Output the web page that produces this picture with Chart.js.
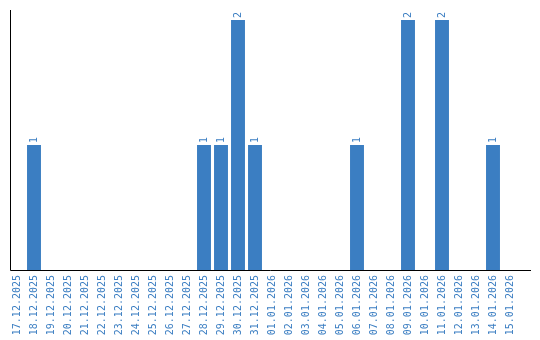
<!DOCTYPE html>
<html>
<head>
<meta charset="utf-8">
<script src="https://cdn.jsdelivr.net/npm/chart.js@4"></script>
<style>
  body { margin: 0; background: #fff; }
</style>
</head>
<body>
<canvas id="myChart" width="540" height="340"></canvas>
<script>
var dayLabels = ['17.12.2025', '18.12.2025', '19.12.2025', '20.12.2025', '21.12.2025', '22.12.2025',
  '23.12.2025', '24.12.2025', '25.12.2025', '26.12.2025', '27.12.2025', '28.12.2025', '29.12.2025',
  '30.12.2025', '31.12.2025', '01.01.2026', '02.01.2026', '03.01.2026', '04.01.2026', '05.01.2026',
  '06.01.2026', '07.01.2026', '08.01.2026', '09.01.2026', '10.01.2026', '11.01.2026', '12.01.2026',
  '13.01.2026', '14.01.2026', '15.01.2026'];
var counts = [0, 1, 0, 0, 0, 0, 0, 0, 0, 0, 0, 1, 1, 2, 1, 0, 0, 0, 0, 0, 1, 0, 0, 2, 0, 2, 0, 0, 1, 0];

var blue = '#3b7ec2';
var labelFont = '10px "DejaVu Sans Mono", monospace';

// writes the value above each bar, turned to read upwards
var valueLabels = {
  id: 'valueLabels',
  afterDatasetsDraw: function(chart) {
    var ctx = chart.ctx;
    var meta = chart.getDatasetMeta(0);
    ctx.save();
    ctx.font = labelFont;
    ctx.fillStyle = blue;
    ctx.textAlign = 'left';
    ctx.textBaseline = 'middle';
    for (var i = 0; i < meta.data.length; i++) {
      if (!counts[i]) continue;
      var bar = meta.data[i];
      ctx.save();
      ctx.translate(bar.x, bar.y - 2);
      ctx.rotate(-Math.PI / 2);
      ctx.fillText(String(counts[i]), 0, 0);
      ctx.restore();
    }
    ctx.restore();
  }
};

// the axis lines run a bit past the bar area on the right, like the original
var axisLines = {
  id: 'axisLines',
  afterDraw: function(chart) {
    var ctx = chart.ctx;
    var area = chart.chartArea;
    ctx.save();
    ctx.strokeStyle = '#000';
    ctx.lineWidth = 1;
    ctx.beginPath();
    ctx.moveTo(10.5, area.top);
    ctx.lineTo(10.5, area.bottom + 0.5);
    ctx.lineTo(531, area.bottom + 0.5);
    ctx.stroke();
    ctx.restore();
  }
};

var ctx = document.getElementById('myChart').getContext('2d');
var myChart = new Chart(ctx, {
  type: 'bar',
  data: {
    labels: dayLabels,
    datasets: [{
      data: counts,
      backgroundColor: blue,
      borderWidth: 0,
      barPercentage: 0.82,
      categoryPercentage: 1
    }]
  },
  options: {
    responsive: false,
    animation: false,
    layout: { padding: { left: 8.5, top: 10, right: 21.5, bottom: 0 } },
    plugins: { legend: { display: false }, tooltip: { enabled: false } },
    scales: {
      x: {
        grid: { display: false, drawTicks: false },
        border: { display: false },
        afterFit: function(scale) { scale.height = 70; },
        ticks: {
          color: blue,
          font: { family: '"DejaVu Sans Mono", monospace', size: 10 },
          minRotation: 90,
          maxRotation: 90,
          autoSkip: false,
          padding: 5
        }
      },
      y: {
        min: 0,
        max: 2.08,
        grid: { display: false, drawTicks: false },
        border: { display: false },
        afterFit: function(scale) { scale.width = 0; },
        ticks: { display: false }
      }
    }
  },
  plugins: [valueLabels, axisLines]
});
</script>
</body>
</html>
